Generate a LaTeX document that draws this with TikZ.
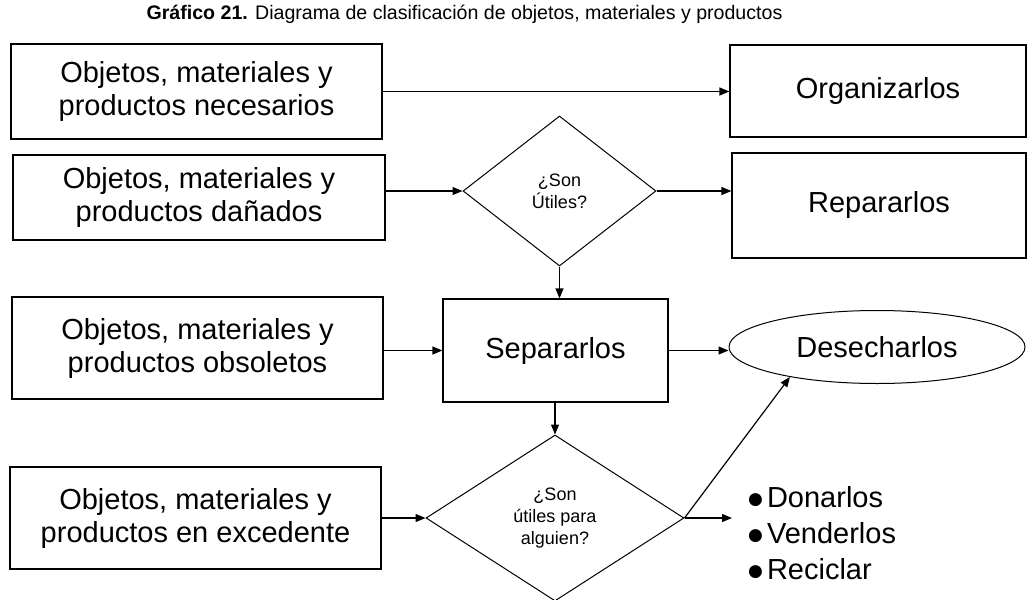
\documentclass[tikz,border=0pt]{standalone}
\usepackage{fontspec}
\setmainfont{Liberation Sans}
\newfontfamily\dejavu{DejaVu Sans}
\usetikzlibrary{shapes.geometric,arrows.meta}
\newcommand\mybul{\raisebox{3pt}{\dejavu\fontsize{17}{17}\selectfont ●}}
\begin{document}
\begin{tikzpicture}[x=1pt,y=-1pt,
  box/.style={draw, line width=1.2pt, inner sep=0pt, align=center, font=\fontsize{29}{33}\selectfont},
  dia/.style={draw, diamond, line width=1pt, inner sep=0pt, align=center, font=\fontsize{18}{22}\selectfont},
  arr/.style={-{Triangle[length=10pt,width=8pt]}, line width=1.2pt},
  ]
\useasboundingbox (0,0) rectangle (1032,599);
\node[anchor=base, font=\fontsize{19.6}{22}\selectfont] (title) at (464.5,20) {{\bfseries Gráfico 21.} Diagrama de clasificación de objetos, materiales y productos};

\node[box, minimum width=371pt, minimum height=95pt] (A1) at (196.5,91.5) {Objetos, materiales y\\productos necesarios};
\node[box, minimum width=296pt, minimum height=92pt] (Org) at (878,91) {Organizarlos};
\node[box, minimum width=372pt, minimum height=85pt] (A2) at (199,197.5) {Objetos, materiales y\\productos dañados};
\node[box, minimum width=294pt, minimum height=105pt] (Rep) at (879,205.5) {Repararlos};
\node[box, minimum width=225pt, minimum height=103pt] (Sep) at (555.5,350.5) {Separarlos};
\node[box, minimum width=371pt, minimum height=102pt] (A3) at (197.5,348) {Objetos, materiales y\\productos obsoletos};
\node[box, minimum width=371pt, minimum height=102pt] (A4) at (195.5,518) {Objetos, materiales y\\productos en excedente};
\node[dia, minimum width=193pt, minimum height=150pt] (d1) at (559.5,191) {¿Son\\Útiles?};
\node[dia, minimum width=258pt, minimum height=166pt] (d2) at (555,518) {¿Son\\útiles para\\alguien?};
\node[draw, ellipse, line width=1pt, inner sep=0pt, minimum width=296pt, minimum height=73pt, font=\fontsize{29}{33}\selectfont] (ell) at (877,347) {Desecharlos};
\node[anchor=west, inner xsep=16pt, inner ysep=0pt, align=left, font=\fontsize{29}{36}\selectfont] (lst) at (732,533) {\mybul\hspace{4pt}Donarlos\\\mybul\hspace{4pt}Venderlos\\\mybul\hspace{4pt}Reciclar};

\draw[arr] (A1.east) -- (Org.west |- A1.east);
\draw[arr] (A2.east |- d1.west) -- (d1.west);
\draw[arr] (d1.east) -- (Rep.west |- d1.east);
\draw[arr] (d1.south) -- (Sep.north -| d1.south);
\draw[arr] (A3.east |- Sep.west) -- (Sep.west);
\draw[arr] (Sep.east) -- (Sep.east -| ell.west);
\draw[arr] (Sep.south -| d2.north) -- (d2.north);
\draw[arr] (A4.east) -- (d2.west);
\draw[arr] (d2.east) -- (lst.west |- d2.east);
\draw[arr] (d2.east) -- (ell.199);
\end{tikzpicture}
\end{document}
